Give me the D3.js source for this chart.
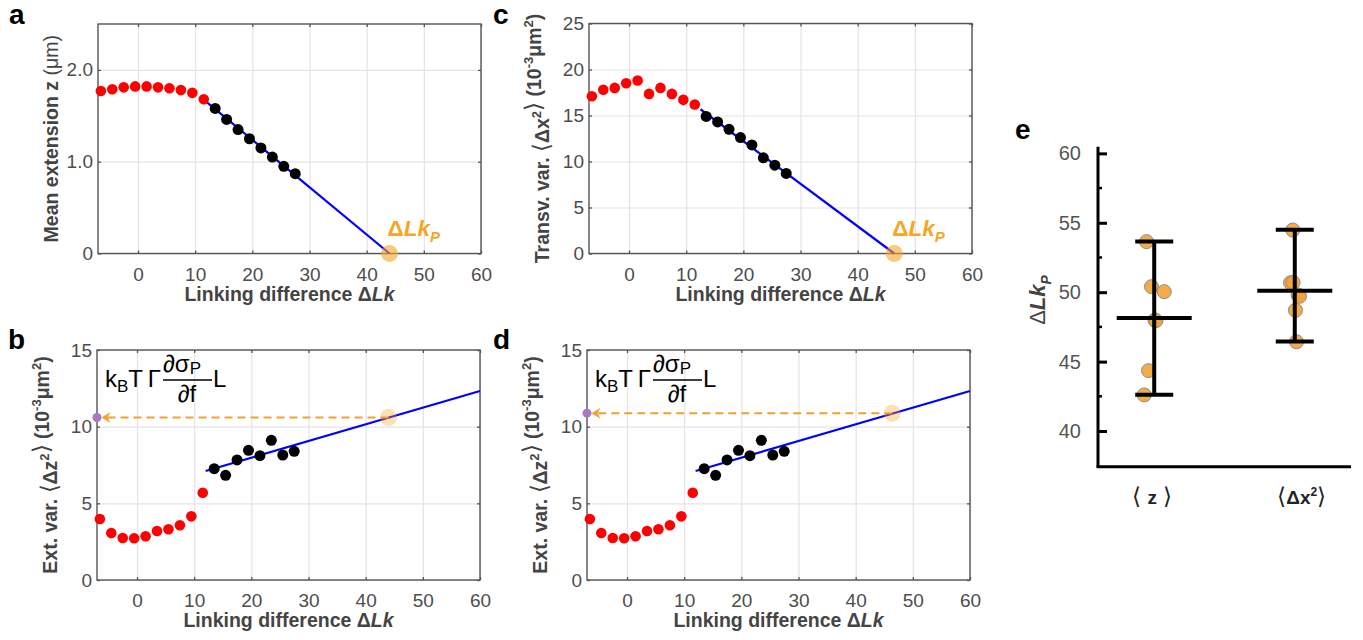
<!DOCTYPE html>
<html>
<head>
<meta charset="utf-8">
<script src="https://cdn.jsdelivr.net/npm/d3@7"></script>
<style>
  body { margin: 0; background: #fff; }
  svg { font-family: Arial, "Liberation Sans", sans-serif; }
</style>
</head>
<body>
<svg id="fig" width="1363" height="640"></svg>
<script>
// linking difference of each point (red = plectoneme-free, black = fitted)
const lkRed = [-6.5, -4.5, -2.5, -0.5, 1.5, 3.5, 5.5, 7.5, 9.5, 11.5];
const lkBlack = [13.5, 15.5, 17.5, 19.5, 21.5, 23.5, 25.5, 27.5];
const lkTicks = [0, 10, 20, 30, 40, 50, 60];

// a: mean extension (um)
const zRed = [1.77, 1.79, 1.81, 1.82, 1.82, 1.81, 1.80, 1.78, 1.75, 1.68];
const zBlack = [1.58, 1.46, 1.35, 1.25, 1.15, 1.05, 0.95, 0.87];
const zFit = [[11.8, 1.66], [44.0, 0]];

// c: transverse variance (1e-3 um^2)
const x2Red = [17.1, 17.8, 18.0, 18.5, 18.8, 17.35, 18.0, 17.35, 16.7, 16.2];
const x2Black = [14.9, 14.3, 13.5, 12.6, 11.8, 10.4, 9.6, 8.7];
const x2Fit = [[12.5, 15.68], [46.4, 0]];

// b, d: extension variance (1e-3 um^2)
const dz2Red = [3.98, 3.07, 2.74, 2.72, 2.85, 3.2, 3.31, 3.57, 4.15, 5.69];
const dz2Black = [7.26, 6.83, 7.83, 8.46, 8.11, 9.11, 8.15, 8.39];
const dz2Fit = [[12, 7.11], [60, 12.33]];

// ΔLk_P found from z (a) and from <Δx²> (c), and the <Δz²> read there
const lkP = [44.0, 46.4];
const dz2AtLkP = [10.6, 10.88];

// e: ΔLk_P per molecule
const eCats = ["z", "x2"];
const eZ = [53.64, 50.4, 50.04, 48.0, 47.95, 44.35, 42.6];
const eX2 = [54.48, 50.68, 50.7, 49.8, 49.7, 48.7, 46.43];
const eMean = [48.15, 50.1];
const eLo = [42.62, 46.45];
const eHi = [53.66, 54.5];
const eTicks = [40, 45, 50, 55, 60];
const eMinor = [42.5, 47.5, 52.5, 57.5];

const svg = d3.select("#fig");
const tickGrey = "#4d4d4d";
const orange = "#f5a623";

function panel(o) {
  const x = d3.scaleLinear().domain([-7, 60]).range([o.left, o.right]);
  const y = d3.scaleLinear().domain(o.yDomain).range([o.bottom, o.top]);
  const w = o.right - o.left, h = o.bottom - o.top;
  const g = svg.append("g");

  // grid
  g.append("g").attr("transform", `translate(0,${o.bottom})`)
    .call(d3.axisBottom(x).tickValues(lkTicks).tickSize(-h).tickFormat(""))
    .call(s => s.select(".domain").remove())
    .selectAll("line").attr("stroke", "#e4e4e4").attr("stroke-width", 1.2);
  g.append("g").attr("transform", `translate(${o.left},0)`)
    .call(d3.axisLeft(y).tickValues(o.yTicks).tickSize(-w).tickFormat(""))
    .call(s => s.select(".domain").remove())
    .selectAll("line").attr("stroke", "#e4e4e4").attr("stroke-width", 1.2);

  // box with inward ticks
  const axes = [
    [d3.axisBottom(x).tickValues(lkTicks), `translate(0,${o.bottom})`, "b"],
    [d3.axisTop(x).tickValues(lkTicks).tickFormat(""), `translate(0,${o.top})`, "t"],
    [d3.axisLeft(y).tickValues(o.yTicks).tickFormat(o.yFormat), `translate(${o.left},0)`, "l"],
    [d3.axisRight(y).tickValues(o.yTicks).tickFormat(""), `translate(${o.right},0)`, "r"]
  ];
  axes.forEach(([ax, tr, side]) => {
    const a = g.append("g").attr("transform", tr)
      .call(ax.tickSize(-3).tickSizeOuter(0).tickPadding(5))
      .attr("font-family", null).attr("font-size", 19);
    a.select(".domain").remove();
    a.selectAll("line").attr("stroke", "#555").attr("stroke-width", 1.3);
    a.selectAll("text").attr("fill", tickGrey);
    if (side === "b") a.selectAll("text").attr("y", 14);
  });
  g.append("rect").attr("x", o.left).attr("y", o.top).attr("width", w).attr("height", h)
    .attr("fill", "none").attr("stroke", "#555").attr("stroke-width", 1.4);

  // x label
  const xl = g.append("text").attr("x", (o.left + o.right) / 2).attr("y", o.bottom + 47)
    .attr("text-anchor", "middle").attr("font-size", 19.5).attr("font-weight", "bold").attr("fill", "#444");
  xl.append("tspan").text("Linking difference \u0394");
  xl.append("tspan").attr("font-style", "italic").text("Lk");

  // y label
  const yl = g.append("text")
    .attr("transform", `translate(${o.left - 40},${(o.top + o.bottom) / 2}) rotate(-90)`)
    .attr("text-anchor", "middle").attr("font-size", 19.5).attr("font-weight", "bold").attr("fill", "#444");
  o.ylabel(yl);

  // fit line
  const line = d3.line().x(d => x(d[0])).y(d => y(d[1]));
  g.append("path").datum(o.fit).attr("d", line)
    .attr("stroke", "#0000ff").attr("stroke-width", 2.2).attr("fill", "none");

  // points
  g.selectAll(".red").data(lkRed).join("circle")
    .attr("cx", d => x(d)).attr("cy", (d, i) => y(o.red[i])).attr("r", 5.3).attr("fill", "#ff0000");
  g.selectAll(".blk").data(lkBlack).join("circle")
    .attr("cx", d => x(d)).attr("cy", (d, i) => y(o.black[i])).attr("r", 5.5).attr("fill", "#000");

  return { g, x, y };
}

function sup(t, s) {
  t.append("tspan").attr("dy", -8).attr("font-size", 13).text(s);
}
function bracket(t, s) {
  t.append("tspan").attr("font-weight", "normal").attr("font-size", 23).text(s);
}
function unitTail(t) {
  t.append("tspan").text("  (10");
  sup(t, "-3");
  t.append("tspan").attr("dy", 8).text("\u03bcm");
  sup(t, "2");
  t.append("tspan").attr("dy", 8).text(")");
}

function lkPMarker(p, xv, yv, opacity) {
  p.g.append("circle").attr("cx", p.x(xv)).attr("cy", p.y(yv)).attr("r", 8.5)
    .attr("fill", orange).attr("fill-opacity", opacity);
}

function lkPLabel(p, xv) {
  const t = p.g.append("text").attr("x", p.x(xv) - 2).attr("y", p.y(0) - 18)
    .attr("font-size", 22.5).attr("font-weight", "bold").attr("fill", orange);
  t.append("tspan").text("\u0394");
  t.append("tspan").attr("font-style", "italic").text("Lk");
  t.append("tspan").attr("font-style", "italic").attr("font-size", 15).attr("dy", 6).text("P");
}

function formula(p, left, top) {
  const g = p.g.append("g").attr("font-size", 24).attr("fill", "#000");
  const t1 = g.append("text").attr("x", left + 8).attr("y", top + 37);
  t1.append("tspan").text("k");
  t1.append("tspan").attr("font-size", 17).attr("dy", 5).text("B");
  t1.append("tspan").attr("dy", -5).text("T\u2009\u0393");
  const n = g.append("text").attr("x", left + 66).attr("y", top + 22);
  n.append("tspan").text("\u2202\u03c3");
  n.append("tspan").attr("font-size", 17).attr("dy", 2).text("P");
  g.append("line").attr("x1", left + 66).attr("x2", left + 115).attr("y1", top + 30).attr("y2", top + 30)
    .attr("stroke", "#000").attr("stroke-width", 1.3);
  g.append("text").attr("x", left + 90).attr("y", top + 52).attr("text-anchor", "middle").text("\u2202f");
  g.append("text").attr("x", left + 116).attr("y", top + 37).text("L");
}

function readout(p, xv, yv) {
  const yy = p.y(yv), x0 = p.x(-7);
  p.g.append("line").attr("x1", p.x(xv)).attr("x2", x0 + 10).attr("y1", yy).attr("y2", yy)
    .attr("stroke", "#f0a030").attr("stroke-width", 2).attr("stroke-dasharray", "8,5");
  const tip = x0 + 4.5;
  p.g.append("path")
    .attr("d", `M${tip},${yy}L${tip + 9},${yy - 5.5}L${tip + 6},${yy}L${tip + 9},${yy + 5.5}Z`)
    .attr("fill", "#f0a030");
  p.g.append("circle").attr("cx", x0).attr("cy", yy).attr("r", 4.5).attr("fill", "#a679c0");
  lkPMarker(p, xv, yv, 0.35);
}

// a
const pa = panel({
  left: 98, right: 481, top: 24, bottom: 253.5, yDomain: [0, 2.5],
  yTicks: [0, 1, 2], yFormat: d => d === 0 ? "0" : d3.format(".1f")(d),
  red: zRed, black: zBlack, fit: zFit,
  ylabel: t => { t.append("tspan").text("Mean extension z "); t.append("tspan").attr("font-weight", "normal").text("(\u03bcm)"); }
});
lkPMarker(pa, lkP[0], 0, 0.6);
lkPLabel(pa, lkP[0]);

// c
const pc = panel({
  left: 589, right: 972, top: 23.5, bottom: 253.5, yDomain: [0, 25],
  yTicks: [0, 5, 10, 15, 20, 25], yFormat: d3.format("d"),
  red: x2Red, black: x2Black, fit: x2Fit,
  ylabel: t => { t.append("tspan").text("Transv. var. "); bracket(t, "\u27e8"); t.append("tspan").text("\u0394x"); sup(t, "2"); t.append("tspan").attr("dy", 8); bracket(t, "\u27e9"); unitTail(t); }
});
lkPMarker(pc, lkP[1], 0, 0.6);
lkPLabel(pc, lkP[1]);

// b and d
[[97, 480, 0], [587, 970, 1]].forEach(([l, r, k]) => {
  const p = panel({
    left: l, right: r, top: 350, bottom: 580, yDomain: [0, 15],
    yTicks: [0, 5, 10, 15], yFormat: d3.format("d"),
    red: dz2Red, black: dz2Black, fit: dz2Fit,
    ylabel: t => { t.append("tspan").text("Ext. var. "); bracket(t, "\u27e8"); t.append("tspan").text("\u0394z"); sup(t, "2"); t.append("tspan").attr("dy", 8); bracket(t, "\u27e9"); unitTail(t); }
  });
  readout(p, lkP[k], dz2AtLkP[k]);
  formula(p, l, 350);
});

// e
const ex = d3.scalePoint().domain(eCats).range([1098, 1351]).padding(0.4);
const ey = d3.scaleLinear().domain([37.43, 60.48]).range([466.7, 146.7]);
const ge = svg.append("g");
ge.append("line").attr("x1", 1098).attr("x2", 1098).attr("y1", ey(60.48)).attr("y2", ey(37.43))
  .attr("stroke", "#000").attr("stroke-width", 3);
ge.append("line").attr("x1", 1096.5).attr("x2", 1351).attr("y1", ey(37.43)).attr("y2", ey(37.43))
  .attr("stroke", "#000").attr("stroke-width", 3);
const eAx = ge.append("g").attr("transform", "translate(1098,0)")
  .call(d3.axisLeft(ey).tickValues(eTicks).tickSize(-9).tickSizeOuter(0).tickPadding(17))
  .attr("font-family", null).attr("font-size", 20);
eAx.select(".domain").remove();
eAx.selectAll("line").attr("stroke", "#000").attr("stroke-width", 3);
eAx.selectAll("text").attr("fill", "#555");
ge.selectAll(".minor").data(eMinor).join("line")
  .attr("x1", 1097).attr("x2", 1102).attr("y1", d => ey(d)).attr("y2", d => ey(d))
  .attr("stroke", "#000").attr("stroke-width", 2.5);

const eyl = ge.append("text").attr("transform", `translate(1045,300) rotate(-90)`)
  .attr("text-anchor", "middle").attr("font-size", 22).attr("fill", "#444");
eyl.append("tspan").text("\u0394");
eyl.append("tspan").attr("font-weight", "bold").attr("font-style", "italic").text("Lk");
eyl.append("tspan").attr("font-weight", "bold").attr("font-style", "italic").attr("font-size", 14).attr("dy", 6).text("P");

// category labels
const cz = ge.append("text").attr("x", ex("z") - 2).attr("y", 504).attr("text-anchor", "middle")
  .attr("font-size", 19).attr("fill", "#222");
cz.append("tspan").attr("font-size", 23).text("\u27e8 ");
cz.append("tspan").attr("font-weight", "bold").text("z");
cz.append("tspan").attr("font-size", 23).text(" \u27e9");
const cx2 = ge.append("text").attr("x", ex("x2") + 7).attr("y", 504).attr("text-anchor", "middle")
  .attr("font-size", 19).attr("fill", "#222");
cx2.append("tspan").attr("font-size", 23).text("\u27e8");
cx2.append("tspan").attr("font-weight", "bold").text("\u0394x");
cx2.append("tspan").attr("font-weight", "bold").attr("font-size", 12).attr("dy", -8).text("2");
cx2.append("tspan").attr("dy", 8).attr("font-size", 23).text("\u27e9");

// scattered molecules (horizontal jitter in px)
const jitter = { z: [-7.7, -2.7, 10, 0.7, 1.7, -5.7, -10], x2: [-2, -4.3, -1.7, 3.3, 4.7, 0.7, 1.7] };
[["z", eZ], ["x2", eX2]].forEach(([c, vals]) => {
  ge.selectAll(null).data(vals).join("circle")
    .attr("cx", (d, i) => ex(c) + jitter[c][i]).attr("cy", d => ey(d)).attr("r", 7)
    .attr("fill", "#f2a333").attr("fill-opacity", 0.9)
    .attr("stroke", "#8a8a8a").attr("stroke-width", 1);
});

// mean and range bars
eCats.forEach((c, i) => {
  const cx = ex(c);
  const seg = (x1, x2, y1, y2) => ge.append("line")
    .attr("x1", x1).attr("x2", x2).attr("y1", y1).attr("y2", y2)
    .attr("stroke", "#000").attr("stroke-width", 4);
  seg(cx, cx, ey(eHi[i]), ey(eLo[i]));
  seg(cx - 19, cx + 19, ey(eHi[i]), ey(eHi[i]));
  seg(cx - 19, cx + 19, ey(eLo[i]), ey(eLo[i]));
  seg(cx - 37.5, cx + 37.5, ey(eMean[i]), ey(eMean[i]));
});

// panel letters
const letters = [["a", 9, 24], ["c", 493, 24], ["b", 8, 349], ["d", 493, 349], ["e", 1015, 139]];
svg.selectAll(".letter").data(letters).join("text")
  .attr("x", d => d[1]).attr("y", d => d[2])
  .attr("font-size", 28).attr("font-weight", "bold").attr("fill", "#000")
  .text(d => d[0]);
</script>
</body>
</html>
